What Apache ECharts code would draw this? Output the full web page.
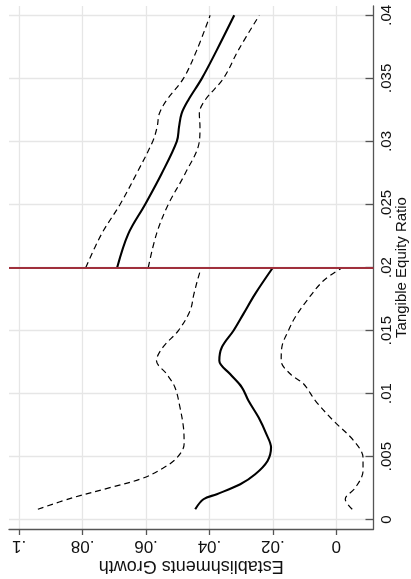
<!DOCTYPE html>
<html>
<head>
<meta charset="utf-8">
<script src="https://cdn.jsdelivr.net/npm/echarts@6/dist/echarts.min.js"></script>
<style>
html,body{margin:0;padding:0;background:#fff;overflow:hidden;}
#c{width:411px;height:579px;}
</style>
</head>
<body>
<div id="c"></div>
<script>
// Tick labels
var growthTicks = [0, 0.02, 0.04, 0.06, 0.08, 0.1];
var ratioTicks = [0, 0.005, 0.01, 0.015, 0.02, 0.025, 0.03, 0.035, 0.04];
var cutoff = 0.02;

// Above cutoff (ratio 0.02 - 0.04)
var upperRatio = [0.02, 0.02267, 0.025, 0.02744, 0.03, 0.03115, 0.03221, 0.03327, 0.035, 0.03724, 0.04];
var upperEst   = [0.0691, 0.0656, 0.0603, 0.0551, 0.0503, 0.0496, 0.0488, 0.0467, 0.0424, 0.0377, 0.0322];
var upperHi    = [0.0790, 0.0740, 0.0682, 0.0630, 0.0579, 0.0565, 0.0558, 0.0535, 0.0482, 0.0440, 0.0398];
var upperLo    = [0.0593, 0.0567, 0.0530, 0.0477, 0.0432, 0.0430, 0.0432, 0.0414, 0.0356, 0.0309, 0.0243];

// Below cutoff (ratio 0 - 0.02)
var lowerEstRatio = [0.00083, 0.00162, 0.00202, 0.00281, 0.0036, 0.00466, 0.00572, 0.0068, 0.0081, 0.00943, 0.0105, 0.01155, 0.0126, 0.01367, 0.015, 0.01632, 0.01791, 0.02];
var lowerEst      = [0.0445, 0.0419, 0.0377, 0.0303, 0.0256, 0.0217, 0.0206, 0.0221, 0.0245, 0.0277, 0.0298, 0.0335, 0.0369, 0.0361, 0.0324, 0.0293, 0.0256, 0.0200];
var lowerHiRatio  = [0.00083, 0.00175, 0.00254, 0.0033, 0.0041, 0.0049, 0.006, 0.0073, 0.0089, 0.0105, 0.01155, 0.0126, 0.0137, 0.015, 0.01658, 0.01791, 0.0195, 0.02];
var lowerHi       = [0.0941, 0.0830, 0.0714, 0.0609, 0.0546, 0.0503, 0.0480, 0.0482, 0.0493, 0.0509, 0.0535, 0.0567, 0.0546, 0.0498, 0.0461, 0.0449, 0.0432, 0.0424];
var lowerLoRatio  = [0.00083, 0.00162, 0.00254, 0.00387, 0.0049, 0.00625, 0.00784, 0.00943, 0.01076, 0.01155, 0.0126, 0.01367, 0.015, 0.01605, 0.01738, 0.01897, 0.02];
var lowerLo       = [-0.0050, -0.0028, -0.0060, -0.0084, -0.0084, -0.0055, 0.0009, 0.0066, 0.0103, 0.0145, 0.0174, 0.0172, 0.0151, 0.0130, 0.0093, 0.0040, -0.0020];

function pairs(vals, ratios) {
  return vals.map(function (v, i) { return [v, ratios[i]]; });
}
function fmt(v) {
  if (v === 0) return '0';
  return String(v).replace(/^0\./, '.');
}
var FONT = 'Liberation Sans, Arial, sans-serif';
var solid = {color: '#000', width: 2.1, type: 'solid'};
var dashed = {color: '#000', width: 1.2, type: [6, 4]};
function mk(name, data, style) {
  return {
    name: name, type: 'line', data: data, showSymbol: false, symbol: 'none',
    smooth: 0.35, lineStyle: style, silent: true, z: 3
  };
}

var chart = echarts.init(document.getElementById('c'), null, {renderer: 'canvas'});
var series = [
  mk('upperHi', pairs(upperHi, upperRatio), dashed),
  mk('upperEst', pairs(upperEst, upperRatio), solid),
  mk('upperLo', pairs(upperLo, upperRatio), dashed),
  mk('lowerHi', pairs(lowerHi, lowerHiRatio), dashed),
  mk('lowerEst', pairs(lowerEst, lowerEstRatio), solid),
  mk('lowerLo', pairs(lowerLo, lowerLoRatio), dashed)
];
series[1].markLine = {
  silent: true, symbol: 'none', animation: false,
  label: {show: false},
  lineStyle: {color: '#a0303c', width: 2, type: 'solid'},
  data: [{yAxis: cutoff}]
};

chart.setOption({
  animation: false,
  backgroundColor: '#fff',
  grid: {left: 9, right: 37.5, top: 6, bottom: 50, containLabel: false, outerBoundsMode: 'none'},
  xAxis: {
    type: 'value', inverse: true, min: -0.0117, max: 0.1032,
    name: 'Establishments Growth', nameLocation: 'middle', nameGap: 28, nameRotate: 180,
    nameMoveOverlap: false,
    nameTextStyle: {fontFamily: FONT, fontSize: 18, color: '#111'},
    axisLine: {show: true, onZero: false, lineStyle: {color: '#555', width: 1.3}},
    axisTick: {show: true, inside: false, length: 6, customValues: growthTicks, lineStyle: {color: '#555', width: 1.3}},
    axisLabel: {show: true, customValues: growthTicks, rotate: 180, margin: 8, formatter: fmt,
      fontFamily: FONT, fontSize: 17, color: '#111'},
    splitLine: {show: true, lineStyle: {color: '#e6e6e6', width: 1.3}}
  },
  yAxis: {
    type: 'value', position: 'right', min: -0.00074, max: 0.04074,
    name: 'Tangible Equity Ratio', nameLocation: 'middle', nameGap: 21, nameRotate: 90,
    nameMoveOverlap: false,
    nameTextStyle: {fontFamily: FONT, fontSize: 15, color: '#111'},
    axisLine: {show: true, onZero: false, lineStyle: {color: '#555', width: 1.3}},
    axisTick: {show: true, inside: true, length: 8, customValues: ratioTicks, lineStyle: {color: '#555', width: 1.3}},
    axisLabel: {show: true, customValues: ratioTicks, rotate: 90, margin: 6, formatter: fmt,
      fontFamily: FONT, fontSize: 15, color: '#111'},
    splitLine: {show: true, lineStyle: {color: '#e6e6e6', width: 1.3}}
  },
  series: series
});
</script>
</body>
</html>
